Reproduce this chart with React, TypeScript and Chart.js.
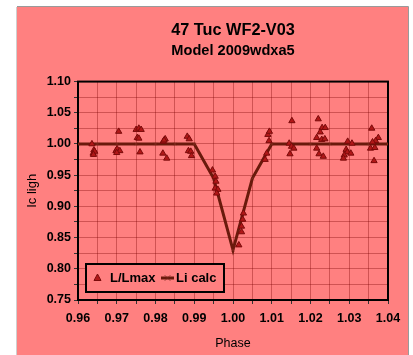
import React, { useEffect, useRef } from "react";
import { Chart, registerables } from "chart.js";

Chart.register(...registerables);

const titleText = "47 Tuc WF2-V03";
const subtitleText = "Model 2009wdxa5";
const xTitle = "Phase";
const yTitle = "Ic ligh";
const obsLabel = "L/Lmax";
const calcLabel = "Li calc";

const obsPhase = [
  0.9636, 0.9641, 0.9639, 0.9643, 0.964,
  0.9705, 0.9698, 0.9701, 0.9708, 0.97,
  0.975, 0.9757, 0.9763, 0.9753, 0.9757, 0.976,
  0.9825, 0.982, 0.9819, 0.9829, 0.9822,
  0.9882, 0.9887, 0.9885, 0.9891, 0.9893,
  0.9947, 0.9954, 0.9956, 0.9954, 0.9961, 0.9958,
  1.0015, 1.0022, 1.0022, 1.0025, 1.0027,
  1.0083, 1.0087, 1.0093, 1.009, 1.0094,
  1.0152, 1.0145, 1.0151, 1.0157, 1.0147,
  1.022, 1.023, 1.0238, 1.0225, 1.0216, 1.0229, 1.0237, 1.0216, 1.0222, 1.0233,
  1.0296, 1.0307, 1.0292, 1.0295, 1.0304, 1.0287, 1.0285,
  1.0358, 1.0375, 1.0368, 1.036, 1.0355, 1.0366, 1.0364,
];
const obsFlux = [
  1.0, 0.99, 0.985, 0.988, 0.983,
  1.02, 0.989, 0.992, 0.989, 0.986,
  1.023, 1.025, 1.023, 1.01, 1.009, 0.987,
  1.008, 1.004, 0.985, 0.977, 1.006,
  1.012, 1.008, 0.989, 0.988, 0.981,
  0.958, 0.948, 0.94, 0.929, 0.927, 0.921,
  0.838, 0.859, 0.868, 0.879, 0.889,
  0.975, 0.985, 1.005, 1.015, 1.02,
  1.037, 1.001, 0.996, 0.993, 0.984,
  1.04, 1.026, 1.026, 1.019, 1.01, 1.007, 1.008, 0.993, 0.984, 0.98,
  1.004, 1.001, 0.991, 0.987, 0.985, 0.982, 0.977,
  1.025, 1.01, 1.005, 1.003, 0.993, 0.994, 0.973,
];

const calcPhase = [
  0.96, 0.965, 0.97, 0.975, 0.98, 0.985, 0.99, 0.995, 1.0, 1.005,
  1.01, 1.015, 1.02, 1.025, 1.03, 1.035, 1.04,
];
const calcFlux = [
  1.0, 1.0, 1.0, 1.0, 1.0, 1.0, 1.0, 0.945, 0.83, 0.945,
  1.0, 1.0, 1.0, 1.0, 1.0, 1.0, 1.0,
];

const xMin = 0.96, xMax = 1.04, xStep = 0.005;
const yMin = 0.75, yMax = 1.1, yStep = 0.025;

const PINK = "#FF8080";
const FONT = "'Liberation Sans', Arial, sans-serif";
const OBS_FILL = "#B01818";
const OBS_EDGE = "#7A0A0A";
const LINE_COL = "#6A1A0C";

const bgPlugin = {
  id: "bg",
  beforeDraw(chart: any) {
    const { ctx, width, height } = chart;
    ctx.save();
    ctx.fillStyle = "#fff";
    ctx.fillRect(0, 0, width, height);
    ctx.fillStyle = PINK;
    ctx.fillRect(17, 7, 391, height - 7);
    ctx.strokeStyle = "#9a9a9a";
    ctx.lineWidth = 1;
    ctx.beginPath();
    ctx.moveTo(17, 6.5);
    ctx.lineTo(408.5, 6.5);
    ctx.lineTo(408.5, height);
    ctx.stroke();
    ctx.strokeStyle = "#cfcfcf";
    ctx.beginPath();
    ctx.moveTo(16.5, 7);
    ctx.lineTo(16.5, height);
    ctx.stroke();
    ctx.restore();
  },
  beforeDatasetsDraw(chart: any) {
    const { ctx, chartArea: a } = chart;
    ctx.save();
    ctx.strokeStyle = "#000";
    ctx.lineWidth = 2;
    ctx.strokeRect(a.left, a.top, a.right - a.left, a.bottom - a.top);
    ctx.restore();
  },
  afterDatasetsDraw(chart: any) {
    const { ctx } = chart;
    const bx = 86, by = 264, bw = 138, bh = 28;
    ctx.save();
    ctx.fillStyle = PINK;
    ctx.fillRect(bx, by, bw, bh);
    ctx.strokeStyle = "#000";
    ctx.lineWidth = 2;
    ctx.strokeRect(bx, by, bw, bh);
    const cy = by + bh / 2;
    ctx.fillStyle = OBS_FILL;
    ctx.strokeStyle = OBS_EDGE;
    ctx.lineWidth = 1;
    ctx.beginPath();
    ctx.moveTo(97.5, cy - 4);
    ctx.lineTo(101, cy + 2.5);
    ctx.lineTo(94, cy + 2.5);
    ctx.closePath();
    ctx.fill();
    ctx.stroke();
    ctx.fillStyle = "#000";
    ctx.font = `bold 13px ${FONT}`;
    ctx.textBaseline = "middle";
    ctx.textAlign = "left";
    ctx.fillText(obsLabel, 110, cy + 0.5);
    ctx.strokeStyle = LINE_COL;
    ctx.lineWidth = 3;
    ctx.beginPath();
    ctx.moveTo(161, cy);
    ctx.lineTo(174, cy);
    ctx.stroke();
    ctx.lineWidth = 1;
    ctx.strokeStyle = "rgba(120,40,30,0.6)";
    ctx.beginPath();
    ctx.moveTo(164.5, cy - 3);
    ctx.lineTo(170.5, cy + 3);
    ctx.moveTo(170.5, cy - 3);
    ctx.lineTo(164.5, cy + 3);
    ctx.stroke();
    ctx.fillStyle = "#000";
    ctx.fillText(calcLabel, 176, cy + 0.5);
    ctx.restore();
  },
};

export default function App() {
  const ref = useRef<HTMLCanvasElement | null>(null);
  useEffect(() => {
    if (!ref.current) return;
    const obsData = obsPhase.map((x, i) => ({ x, y: obsFlux[i] }));
    const calcData = calcPhase.map((x, i) => ({ x, y: calcFlux[i] }));
    const chart = new Chart(ref.current, {
      type: "scatter",
      data: {
        datasets: [
          {
            label: calcLabel,
            data: calcData,
            showLine: true,
            borderColor: LINE_COL,
            borderWidth: 3,
            pointStyle: "crossRot",
            pointRadius: 3,
            pointBorderColor: "rgba(150,60,50,0.35)",
            pointBorderWidth: 1,
            pointBackgroundColor: "transparent",
            order: 2,
          },
          {
            label: obsLabel,
            data: obsData,
            showLine: false,
            pointStyle: "triangle",
            pointRadius: 3.6,
            backgroundColor: OBS_FILL,
            borderColor: OBS_EDGE,
            borderWidth: 1,
            order: 1,
          },
        ],
      },
      options: {
        responsive: false,
        animation: false,
        devicePixelRatio: 1,
        layout: { padding: { left: 25, right: 25, top: 21, bottom: 4 } },
        plugins: {
          legend: { display: false },
          tooltip: { enabled: false },
          title: {
            display: true,
            text: titleText,
            fullSize: false,
            color: "#000",
            font: { family: FONT, size: 16.3, weight: "bold", lineHeight: 1.2 },
            padding: { top: 0, bottom: 0 },
          },
          subtitle: {
            display: true,
            text: subtitleText,
            fullSize: false,
            color: "#000",
            font: { family: FONT, size: 14.6, weight: "bold", lineHeight: 1.2 },
            padding: { top: 2, bottom: 21.5 },
          },
        },
        scales: {
          x: {
            type: "linear",
            min: xMin,
            max: xMax,
            afterFit: (s: any) => { s.height = 51; },
            border: { display: false },
            grid: {
              color: "rgba(120,0,0,0.35)",
              lineWidth: 1,
              drawTicks: true,
              tickLength: 4,
              tickColor: "#333",
            },
            ticks: {
              stepSize: xStep,
              autoSkip: false,
              maxRotation: 0,
              padding: 7,
              color: "#000",
              font: { family: FONT, size: 12.5, weight: "bold" },
              callback: (v: any) => {
                const n = Math.round(Number(v) * 1000);
                return n % 10 === 0 ? (n / 1000).toFixed(2) : "";
              },
            },
            title: {
              display: true,
              text: xTitle,
              color: "#000",
              padding: 0,
              font: { family: FONT, size: 12.5, lineHeight: 1.2 },
            },
          },
          y: {
            type: "linear",
            min: yMin,
            max: yMax,
            afterFit: (s: any) => { s.width = 53; },
            border: { display: false },
            grid: {
              color: "rgba(120,0,0,0.35)",
              lineWidth: 1,
              drawTicks: true,
              tickLength: 4,
              tickColor: "#333",
            },
            ticks: {
              stepSize: yStep,
              autoSkip: false,
              padding: 3,
              color: "#000",
              font: { family: FONT, size: 12.5, weight: "bold" },
              callback: (v: any) => {
                const n = Math.round(Number(v) * 1000);
                return n % 50 === 0 ? (n / 1000).toFixed(2) : "";
              },
            },
            title: {
              display: true,
              text: yTitle,
              color: "#000",
              padding: 0,
              font: { family: FONT, size: 13, lineHeight: 1.2 },
            },
          },
        },
      },
      plugins: [bgPlugin],
    } as any);
    return () => chart.destroy();
  }, []);
  return (
    <canvas
      ref={ref}
      width={413}
      height={355}
      style={{ position: "absolute", left: 0, top: 0, width: 413, height: 355 }}
    />
  );
}
